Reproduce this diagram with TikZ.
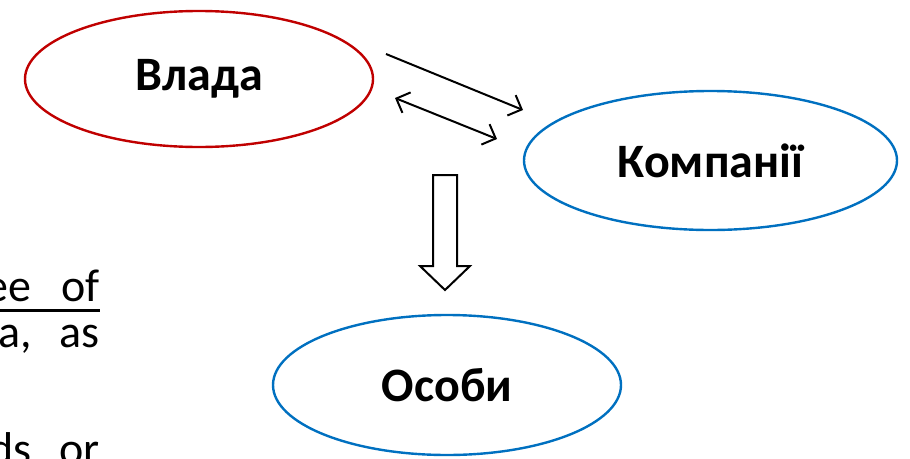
\documentclass[tikz,border=0pt]{standalone}
\usepackage{fontspec}
\setmainfont{Carlito}
\usetikzlibrary{arrows.meta}
\definecolor{vred}{HTML}{C00000}
\definecolor{vblue}{HTML}{0070C0}
\tikzset{
  lbl/.style={font=\fontsize{48}{54}\selectfont\bfseries, text=black},
  body/.style={font=\fontsize{46}{52}\selectfont, anchor=base east, inner sep=0pt},
  link/.style={line width=2pt, black},
  tipA/.style={-{Straight Barb[length=11pt,width=22pt,line width=2pt]}},
  tipB/.style={{Straight Barb[length=11pt,width=22pt,line width=2pt]}-{Straight Barb[length=11pt,width=22pt,line width=2pt]}},
  blockarrow/.style={draw=black, line width=2pt, fill=white, line join=miter}
}
\begin{document}
\begin{tikzpicture}[x=1pt,y=-1pt]
\useasboundingbox (0,0) rectangle (910,458);
% ellipses
\draw[vred, line width=2.4pt] (199,79) ellipse [x radius=174, y radius=68];
\node[lbl] (vlada) at (199,79) {Влада};
\draw[vblue, line width=2.4pt] (710.5,160.5) ellipse [x radius=186.5, y radius=69.5];
\node[lbl] (komp) at (710.5,160.5) {Компанії};
\draw[vblue, line width=2.4pt] (447,385) ellipse [x radius=174, y radius=70];
\node[lbl] (osoby) at (447,385) {Особи};
% arrows
\coordinate (a1s) at (386,54);
\coordinate (a1e) at (523,110);
\coordinate (a2s) at (395,98);
\coordinate (a2e) at (497,139);
\draw[link, tipA] (a1s) -- (a1e);
\draw[link, tipB] (a2s) -- (a2e);
% block arrow
\draw[blockarrow] (433,175) -- (457,175) -- (457,266) -- (470,266) -- (445,290) -- (420,266) -- (433,266) -- cycle;
% cut-off text on the left
\node[body] (t1) at (100,301) {ee\hspace{0.65em}of};
\draw[line width=3pt] (0,310.5) -- (100,310.5);
\node[body] (t2) at (100,347) {ta,\hspace{0.6em}as};
\node[body] (t3) at (100,464) {ds\hspace{0.6em}or};
\end{tikzpicture}
\end{document}
